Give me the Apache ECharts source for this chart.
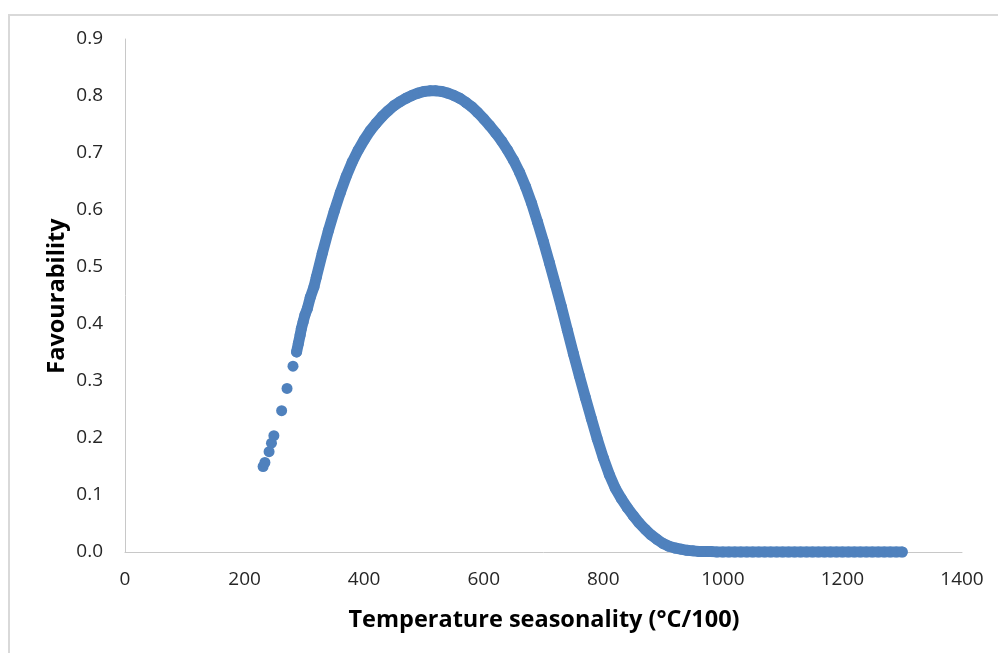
<!DOCTYPE html>
<html>
<head>
<meta charset="utf-8">
<script src="https://cdn.jsdelivr.net/npm/echarts@6/dist/echarts.min.js"></script>
<style>
html,body{margin:0;padding:0;background:#fff;}
#chart{width:998px;height:653px;}
</style>
</head>
<body>
<div id="chart"></div>
<script>
// Isolated low-temperature-seasonality points
var sparseX = [231, 234, 241, 245, 249, 262, 271, 281];
var sparseY = [0.150, 0.157, 0.176, 0.191, 0.204, 0.248, 0.287, 0.326];

// Dense band of points
var denseX = [287, 290, 293, 295, 298, 301, 305, 310, 316,
  320, 330, 340, 350, 360, 370, 380, 390, 400, 410, 420, 430, 440, 450, 460, 470, 480, 490,
  500, 510, 520, 530, 540, 550, 560, 570, 580, 590, 600, 610, 620, 630, 640, 650, 660, 670,
  680, 690, 700, 710, 720, 730, 740, 750, 760, 770, 780, 790, 800, 810, 820, 830, 840, 850,
  860, 870, 880, 890, 900, 910, 920, 930, 940, 950, 960, 970, 980, 990, 1000, 1010, 1020,
  1030, 1040, 1050, 1060, 1070, 1080, 1090, 1100, 1110, 1120, 1130, 1140, 1150, 1160, 1170,
  1180, 1190, 1200, 1210, 1220, 1230, 1240, 1250, 1260, 1270, 1280, 1290, 1300];
var denseY = [0.351, 0.366, 0.381, 0.392, 0.404, 0.416, 0.427, 0.447, 0.465,
  0.482, 0.524, 0.563, 0.598, 0.630, 0.659, 0.684, 0.705, 0.723, 0.739, 0.752, 0.764, 0.774, 0.783, 0.790, 0.796, 0.801, 0.805,
  0.808, 0.809, 0.809, 0.808, 0.805, 0.801, 0.796, 0.789, 0.781, 0.771, 0.760, 0.748, 0.735, 0.721, 0.705, 0.687, 0.666, 0.641,
  0.612, 0.579, 0.544, 0.507, 0.469, 0.430, 0.389, 0.348, 0.309, 0.271, 0.234, 0.198, 0.165, 0.136, 0.112, 0.094, 0.078, 0.064,
  0.051, 0.040, 0.030, 0.022, 0.015, 0.010, 0.007, 0.005, 0.003, 0.002, 0.001, 0.001, 0.001, 0.000, 0.000, 0.000, 0.000,
  0.000, 0.000, 0.000, 0.000, 0.000, 0.000, 0.000, 0.000, 0.000, 0.000, 0.000, 0.000, 0.000, 0.000, 0.000,
  0.000, 0.000, 0.000, 0.000, 0.000, 0.000, 0.000, 0.000, 0.000, 0.000, 0.000, 0.000, 0.000];

var xTicks = {min: 0, max: 1400, interval: 200};
var yTicks = {min: 0, max: 0.9, interval: 0.1};
var xTitle = 'Temperature seasonality (°C/100)';
var yTitle = 'Favourability';

var color = '#4f81bd';
var font = 'Open Sans';

function pairs(xs, ys){ return xs.map(function(x,i){ return [x, ys[i]]; }); }

var chart = echarts.init(document.getElementById('chart'), null, {renderer:'canvas'});
chart.setOption({
  animation: false,
  backgroundColor: '#ffffff',
  grid: {left: 125, right: 36, top: 39, bottom: 101, containLabel: false},
  xAxis: {
    type: 'value', min: xTicks.min, max: xTicks.max, interval: xTicks.interval,
    axisLine: {show: true, lineStyle: {color: '#c8c8c8', width: 1}},
    axisTick: {show: false},
    splitLine: {show: false},
    axisLabel: {color: '#262626', fontFamily: font, fontSize: 19, margin: 18,
      formatter: function(v){ return String(v); }}
  },
  yAxis: {
    type: 'value', min: yTicks.min, max: yTicks.max, interval: yTicks.interval,
    axisLine: {show: true, lineStyle: {color: '#c8c8c8', width: 1}},
    axisTick: {show: false},
    splitLine: {show: false},
    axisLabel: {color: '#262626', fontFamily: font, fontSize: 19, margin: 22,
      formatter: function(v){ return v.toFixed(1); }}
  },
  graphic: [
    {type: 'rect', silent: true, z: -1, shape: {x: 9, y: 15, width: 1100, height: 800},
      style: {fill: 'none', stroke: '#d9d9d9', lineWidth: 2}},
    {type: 'text', x: 544, y: 620, silent: true,
      style: {text: xTitle, fontFamily: font, fontWeight: 'bold', fontSize: 23.5, fill: '#000',
        textAlign: 'center', textVerticalAlign: 'middle'}},
    {type: 'text', x: 57, y: 296, rotation: Math.PI / 2, silent: true,
      style: {text: yTitle, fontFamily: font, fontWeight: 'bold', fontSize: 23.5, fill: '#000',
        textAlign: 'center', textVerticalAlign: 'middle'}}
  ],
  series: [
    {type: 'line', data: pairs(denseX, denseY), showSymbol: false, silent: true,
      lineStyle: {color: color, width: 11, cap: 'round', join: 'round'}, z: 2},
    {type: 'scatter', data: pairs(denseX, denseY), symbolSize: 11,
      itemStyle: {color: color, opacity: 1}, z: 3},
    {type: 'scatter', data: pairs(sparseX, sparseY), symbolSize: 11,
      itemStyle: {color: color, opacity: 1}, z: 3}
  ]
});
</script>
</body>
</html>
